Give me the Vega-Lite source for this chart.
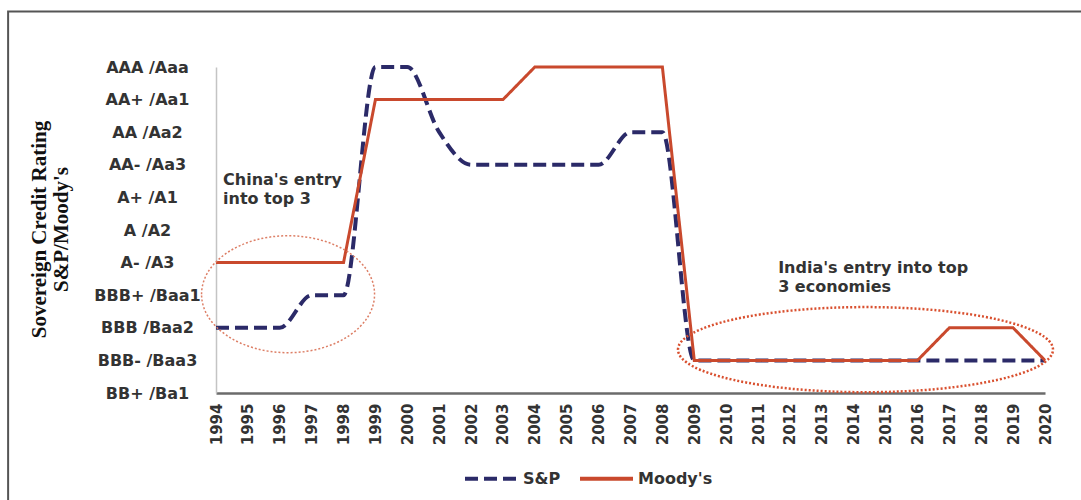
{
  "$schema": "https://vega.github.io/schema/vega-lite/v6.json",
  "width": 829,
  "height": 326,
  "autosize": {"type": "none"},
  "padding": {"left": 216, "top": 67, "right": 36, "bottom": 107},
  "background": "white",
  "config": {
    "view": {"stroke": null},
    "font": "DejaVu Sans",
    "legend": {
      "labelFont": "DejaVu Sans",
      "labelFontWeight": "bold",
      "labelFontSize": 16,
      "labelColor": "#333333",
      "symbolType": "stroke",
      "symbolSize": 2809,
      "symbolStrokeWidth": 4,
      "labelOffset": 3,
      "columnPadding": 11,
      "padding": 0
    }
  },
  "datasets": {
    "ratings": [
      {"year": 1994, "agency": "S&P", "rating": 2},
      {"year": 1995, "agency": "S&P", "rating": 2},
      {"year": 1996, "agency": "S&P", "rating": 2},
      {"year": 1997, "agency": "S&P", "rating": 3},
      {"year": 1998, "agency": "S&P", "rating": 3},
      {"year": 1999, "agency": "S&P", "rating": 10},
      {"year": 2000, "agency": "S&P", "rating": 10},
      {"year": 2001, "agency": "S&P", "rating": 8},
      {"year": 2002, "agency": "S&P", "rating": 7},
      {"year": 2003, "agency": "S&P", "rating": 7},
      {"year": 2004, "agency": "S&P", "rating": 7},
      {"year": 2005, "agency": "S&P", "rating": 7},
      {"year": 2006, "agency": "S&P", "rating": 7},
      {"year": 2007, "agency": "S&P", "rating": 8},
      {"year": 2008, "agency": "S&P", "rating": 8},
      {"year": 2009, "agency": "S&P", "rating": 1},
      {"year": 2010, "agency": "S&P", "rating": 1},
      {"year": 2011, "agency": "S&P", "rating": 1},
      {"year": 2012, "agency": "S&P", "rating": 1},
      {"year": 2013, "agency": "S&P", "rating": 1},
      {"year": 2014, "agency": "S&P", "rating": 1},
      {"year": 2015, "agency": "S&P", "rating": 1},
      {"year": 2016, "agency": "S&P", "rating": 1},
      {"year": 2017, "agency": "S&P", "rating": 1},
      {"year": 2018, "agency": "S&P", "rating": 1},
      {"year": 2019, "agency": "S&P", "rating": 1},
      {"year": 2020, "agency": "S&P", "rating": 1},
      {"year": 1994, "agency": "Moody's", "rating": 4},
      {"year": 1995, "agency": "Moody's", "rating": 4},
      {"year": 1996, "agency": "Moody's", "rating": 4},
      {"year": 1997, "agency": "Moody's", "rating": 4},
      {"year": 1998, "agency": "Moody's", "rating": 4},
      {"year": 1999, "agency": "Moody's", "rating": 9},
      {"year": 2000, "agency": "Moody's", "rating": 9},
      {"year": 2001, "agency": "Moody's", "rating": 9},
      {"year": 2002, "agency": "Moody's", "rating": 9},
      {"year": 2003, "agency": "Moody's", "rating": 9},
      {"year": 2004, "agency": "Moody's", "rating": 10},
      {"year": 2005, "agency": "Moody's", "rating": 10},
      {"year": 2006, "agency": "Moody's", "rating": 10},
      {"year": 2007, "agency": "Moody's", "rating": 10},
      {"year": 2008, "agency": "Moody's", "rating": 10},
      {"year": 2009, "agency": "Moody's", "rating": 1},
      {"year": 2010, "agency": "Moody's", "rating": 1},
      {"year": 2011, "agency": "Moody's", "rating": 1},
      {"year": 2012, "agency": "Moody's", "rating": 1},
      {"year": 2013, "agency": "Moody's", "rating": 1},
      {"year": 2014, "agency": "Moody's", "rating": 1},
      {"year": 2015, "agency": "Moody's", "rating": 1},
      {"year": 2016, "agency": "Moody's", "rating": 1},
      {"year": 2017, "agency": "Moody's", "rating": 2},
      {"year": 2018, "agency": "Moody's", "rating": 2},
      {"year": 2019, "agency": "Moody's", "rating": 2},
      {"year": 2020, "agency": "Moody's", "rating": 1}
    ],
    "notes": [
      {"id": "china", "note": "China's entry\ninto top 3", "year": 1994.22, "rating": 6.38, "cx": 1996.26, "cy": 3.03},
      {"id": "india", "note": "India's entry into top\n3 economies", "year": 2011.63, "rating": 3.68, "cx": 2014.37, "cy": 1.33}
    ],
    "frame": [
      {"left": 1987.48, "right": 2030, "top": 11.7, "bottom": -6}
    ]
  },
  "encoding": {
    "x": {
      "field": "year",
      "type": "quantitative",
      "scale": {"domain": [1994, 2020], "nice": false, "zero": false},
      "axis": {
        "title": null,
        "values": [1994,1995,1996,1997,1998,1999,2000,2001,2002,2003,2004,2005,2006,2007,2008,2009,2010,2011,2012,2013,2014,2015,2016,2017,2018,2019,2020],
        "format": "d",
        "labelAngle": 270,
        "labelAlign": "right",
        "labelBaseline": "middle",
        "labelPadding": 10,
        "labelFont": "DejaVu Sans",
        "labelFontWeight": "bold",
        "labelFontSize": 15,
        "labelColor": "#333333",
        "labelOverlap": false,
        "labelFlush": false,
        "ticks": false,
        "tickSize": 0,
        "grid": false,
        "domainColor": "#6b6b6b",
        "domainWidth": 2.5
      }
    },
    "y": {
      "field": "rating",
      "type": "quantitative",
      "scale": {"domain": [0, 10], "nice": false, "zero": false},
      "axis": {
        "values": [0,1,2,3,4,5,6,7,8,9,10],
        "labelExpr": "['BB+ /Ba1','BBB- /Baa3','BBB /Baa2','BBB+ /Baa1','A- /A3','A /A2','A+ /A1','AA- /Aa3','AA /Aa2','AA+ /Aa1','AAA /Aaa'][datum.value]",
        "labelAlign": "center",
        "labelBaseline": "middle",
        "labelPadding": 69,
        "labelFont": "DejaVu Sans",
        "labelFontWeight": "bold",
        "labelFontSize": 16,
        "labelColor": "#333333",
        "labelOverlap": false,
        "labelFlush": false,
        "ticks": false,
        "tickSize": 0,
        "grid": false,
        "domainColor": "#c4c4c4",
        "domainWidth": 1.5,
        "title": ["Sovereign Credit Rating", "S&P/Moody's"],
        "titleFont": "Liberation Serif",
        "titleFontSize": 21,
        "titleFontWeight": "bold",
        "titleColor": "#111111",
        "titleAngle": 270,
        "titleAlign": "center",
        "titleBaseline": "alphabetic",
        "titleLineHeight": 22,
        "titleX": -171,
        "titleY": 162
      }
    }
  },
  "layer": [
    {
      "data": {"name": "frame"},
      "mark": {"type": "rect", "fill": "transparent", "stroke": "#555555", "strokeWidth": 2, "clip": false},
      "encoding": {
        "x": {"field": "left", "type": "quantitative"},
        "x2": {"field": "right"},
        "y": {"field": "top", "type": "quantitative"},
        "y2": {"field": "bottom"}
      }
    },
    {
      "data": {"name": "ratings"},
      "transform": [{"filter": "datum.agency === 'S&P'"}],
      "mark": {"type": "line", "interpolate": "monotone", "strokeWidth": 4},
      "encoding": {
        "color": {
          "field": "agency",
          "type": "nominal",
          "scale": {"domain": ["S&P", "Moody's"], "range": ["#2b2a68", "#c9492d"]},
          "legend": {"title": null, "orient": "none", "direction": "horizontal", "legendX": 247, "legendY": 383}
        },
        "strokeDash": {
          "field": "agency",
          "type": "nominal",
          "scale": {"domain": ["S&P", "Moody's"], "range": [[13, 6], [1, 0]]},
          "legend": {"title": null, "orient": "none", "direction": "horizontal", "legendX": 247, "legendY": 383}
        }
      }
    },
    {
      "data": {"name": "ratings"},
      "transform": [{"filter": "datum.agency === \"Moody's\""}],
      "mark": {"type": "line", "interpolate": "linear", "strokeWidth": 3},
      "encoding": {
        "color": {"field": "agency", "type": "nominal"},
        "strokeDash": {"field": "agency", "type": "nominal"}
      }
    },
    {
      "data": {"name": "notes"},
      "transform": [{"filter": "datum.id === 'china'"}],
      "mark": {
        "type": "point",
        "shape": "M-1,0A1,0.676,0,1,1,1,0A1,0.676,0,1,1,-1,0Z",
        "size": 29929,
        "filled": false,
        "color": "#dd7f66",
        "strokeWidth": 1.5,
        "strokeDash": [2, 2],
        "opacity": 1
      },
      "encoding": {
        "x": {"field": "cx", "type": "quantitative"},
        "y": {"field": "cy", "type": "quantitative"}
      }
    },
    {
      "data": {"name": "notes"},
      "transform": [{"filter": "datum.id === 'india'"}],
      "mark": {
        "type": "point",
        "shape": "M-1,0A1,0.227,0,1,1,1,0A1,0.227,0,1,1,-1,0Z",
        "size": 140625,
        "filled": false,
        "color": "#d9502f",
        "strokeWidth": 2.5,
        "strokeDash": [2, 2],
        "opacity": 1
      },
      "encoding": {
        "x": {"field": "cx", "type": "quantitative"},
        "y": {"field": "cy", "type": "quantitative"}
      }
    },
    {
      "data": {"name": "notes"},
      "mark": {
        "type": "text",
        "align": "left",
        "baseline": "alphabetic",
        "lineBreak": "\n",
        "lineHeight": 19,
        "font": "DejaVu Sans",
        "fontWeight": "bold",
        "fontSize": 16,
        "color": "#333333"
      },
      "encoding": {
        "text": {"field": "note"}
      }
    }
  ]
}
